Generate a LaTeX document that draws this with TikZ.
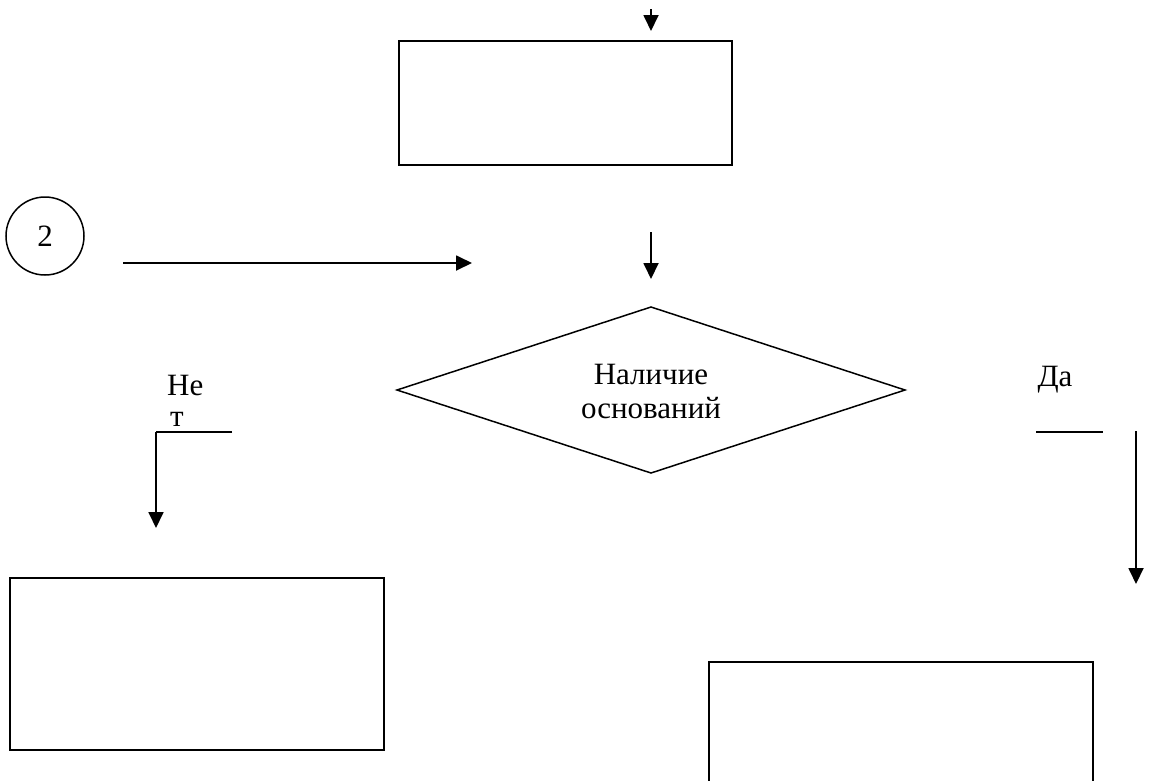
\documentclass[tikz,border=0pt]{standalone}
\usepackage{fontspec}
\setmainfont{Liberation Serif}
\usetikzlibrary{arrows.meta,shapes.geometric}
\begin{document}
\begin{tikzpicture}[x=1pt,y=-1pt,
  every node/.style={font=\fontsize{31}{34}\selectfont},
  line/.style={line width=1.8pt},
  arr/.style={line width=1.8pt,-{Triangle[length=16pt,width=15pt]}},
  box/.style={draw,line width=1.5pt,inner sep=0pt}]
\useasboundingbox (0,0) rectangle (1155,780);
% boxes
\node[box,minimum width=333pt,minimum height=124pt] (top) at (565.5,103) {};
\node[box,minimum width=374pt,minimum height=172pt] (bl) at (197,664) {};
\draw[line width=1.5pt] (709,782) -- (709,662) -- (1093,662) -- (1093,782);
\coordinate (brtl) at (709,662);
% circle connector
\node[draw,circle,line width=1.5pt,minimum size=78pt,inner sep=0pt] (c2) at (45,236) {2};
% diamond
\coordinate (dL) at (397,390);
\coordinate (dT) at (651,307);
\coordinate (dR) at (905,390);
\coordinate (dB) at (651,473);
\draw[line width=1.5pt] (dL) -- (dT) -- (dR) -- (dB) -- cycle;
\node[align=center] (dtext) at (651,391) {Наличие\\оснований};
% arrows
\coordinate (a0s) at (651,9);
\coordinate (a0e) at (651,31);
\draw[arr] (a0s) -- (a0e);
\coordinate (a1s) at (651,232);
\coordinate (a1e) at (651,279);
\draw[arr] (a1s) -- (a1e);
\coordinate (a2s) at (123,263);
\coordinate (a2e) at (472,263);
\draw[arr] (a2s) -- (a2e);
% No branch
\node[anchor=base west,inner sep=0pt] (ne) at (167,395) {Не};
\node[anchor=base west,inner sep=0pt] (t) at (170,426) {т};
\coordinate (n1) at (232,432);
\coordinate (n2) at (156,432);
\coordinate (n3) at (156,528);
\draw[line] (n1) -- (n2);
\draw[arr] (n2) -- (n3);
% Yes branch
\node (da) at (1055,380) {Да};
\coordinate (y1) at (1036,432);
\coordinate (y2) at (1103,432);
\draw[line] (y1) -- (y2);
\coordinate (y3) at (1136,431);
\coordinate (y4) at (1136,584);
\draw[arr] (y3) -- (y4);
\end{tikzpicture}
\end{document}
